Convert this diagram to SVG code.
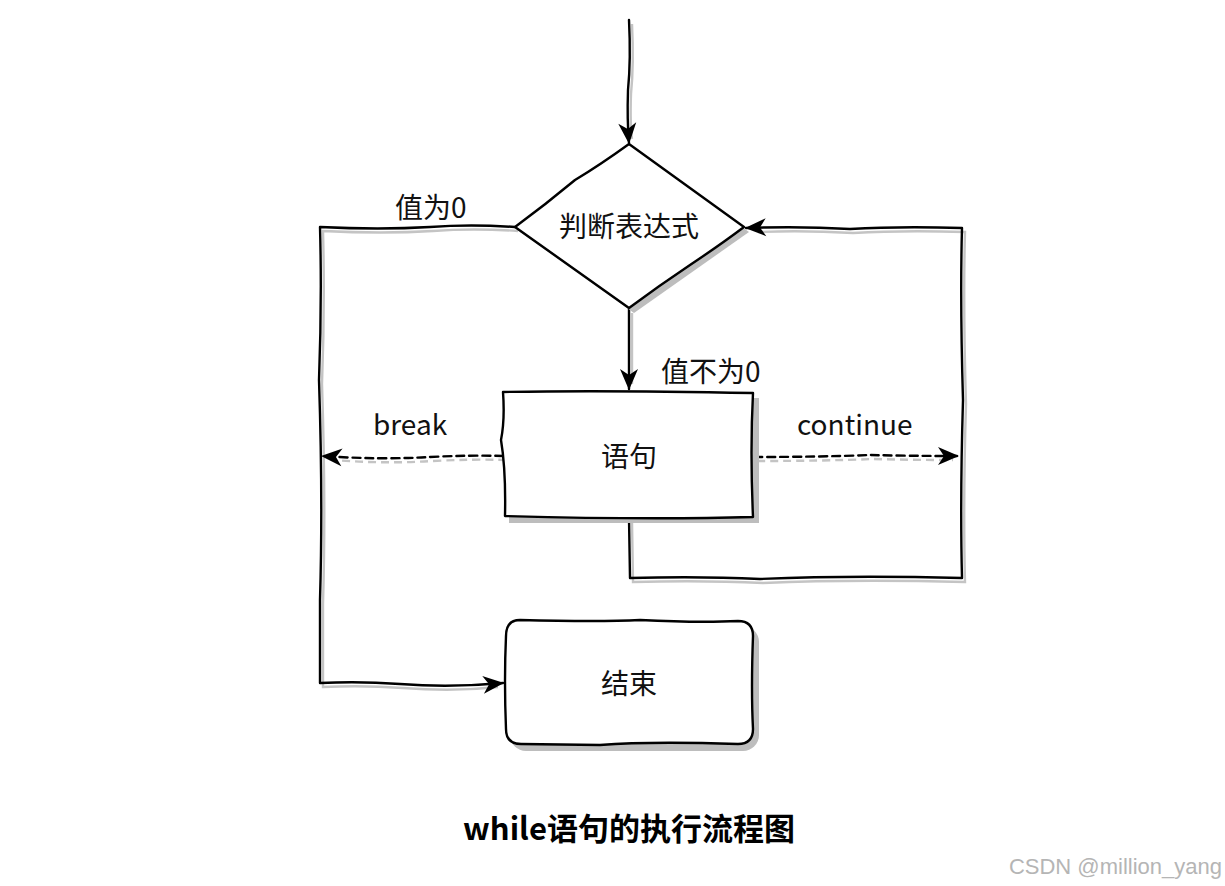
<svg xmlns="http://www.w3.org/2000/svg" width="1225" height="886" viewBox="0 0 1225 886">
<style>
.ln{fill:none;stroke:#000;stroke-width:2.4;stroke-linecap:round;stroke-linejoin:round}
.dash{stroke-dasharray:8 5}
.sh{fill:none;stroke:#c4c4c4;stroke-width:2.4}
.shape{fill:#fff;stroke:#000;stroke-width:2.4;stroke-linejoin:round}
.shf{fill:#bdbdbd;stroke:none}
.t{font-family:"Noto Sans CJK SC","Noto Sans",sans-serif;font-size:28px;fill:#111;text-anchor:middle}
.lab{font-family:"Noto Sans CJK SC","Noto Sans",sans-serif;font-size:28px;fill:#111}
</style>
<defs>
<marker id="ah" markerWidth="24" markerHeight="20" refX="21" refY="10" orient="auto" markerUnits="userSpaceOnUse" viewBox="0 0 24 20">
<path d="M1,1 L22,10 L1,19 L7,10 Z" fill="#000"/>
</marker>
</defs>

<g id="connectors">
<g transform="translate(3,4)">
<path class="sh" d="M629,20 Q631,60 628,90 Q627,120 629,135"/>
<path class="sh" d="M629,309 L629,380"/>
<path class="sh" d="M515,227 Q470,224 430,227 Q380,230 320,227 Q322,300 319,380 Q323,500 320,600 L320,683 Q360,681 400,684 Q450,688 495,683"/>
<path class="sh" d="M629,518 L630,578 Q700,576 760,579 Q850,575 962,578 Q960,500 963,400 Q960,300 962,228 Q900,226 850,229 Q800,226 755,228"/>
<path class="sh dash" d="M503,456 Q470,455 430,457 Q380,460 330,456"/>
<path class="sh dash" d="M754,457 Q820,457 870,455 Q910,456 950,456"/>
</g>
<path class="ln" marker-end="url(#ah)" d="M629,20 Q631,60 628,90 Q627,120 629,143"/>
<path class="ln" marker-end="url(#ah)" d="M629,309 L629,389"/>
<path class="ln" marker-end="url(#ah)" d="M515,227 Q470,224 430,227 Q380,230 320,227 Q322,300 319,380 Q323,500 320,600 L320,683 Q360,681 400,684 Q450,688 503,683"/>
<path class="ln" marker-end="url(#ah)" d="M629,518 L630,578 Q700,576 760,579 Q850,575 962,578 Q960,500 963,400 Q960,300 962,228 Q900,226 850,229 Q800,226 746,228"/>
<path class="ln dash" marker-end="url(#ah)" d="M503,456 Q470,455 430,457 Q380,460 322,456"/>
<path class="ln dash" marker-end="url(#ah)" d="M754,457 Q820,457 870,455 Q910,456 958,456"/>
<text class="lab" x="395" y="218">值为0</text>
<text class="lab" x="661" y="382">值不为0</text>
<text class="lab" x="373" y="435">break</text>
<text class="lab" x="797" y="435">continue</text>
</g>

<g id="decision">
<path class="shf" d="M634,150 L749,232 L634,313 L520,232 Z"/>
<path class="shape" d="M629,144 Q600,165 575,180 Q545,205 515,227 L629,308 Q660,285 690,265 Q720,245 744,227 Z"/>
<text class="t" x="629" y="237">判断表达式</text>
</g>

<g id="statement">
<path class="shf" d="M509,398 L759,398 L759,523 L509,523 Z"/>
<path class="shape" d="M503,392 Q600,390 753,393 Q750,450 753,517 Q650,520 505,516 Q506,470 501,440 Q505,420 503,392 Z"/>
<text class="t" x="629" y="467">语句</text>
</g>

<g id="end">
<rect class="shf" x="510" y="626" width="249" height="125" rx="16"/>
<path class="shape" d="M520,620 Q600,622 640,620 Q700,623 738,621 Q753,621 753,636 Q751,690 753,729 Q753,744 738,744 Q650,741 600,745 L521,744 Q506,744 506,729 Q504,680 506,636 Q506,620 520,620 Z"/>
<text class="t" x="629" y="694">结束</text>
</g>

<text x="629" y="840" style="font-family:'Noto Sans CJK SC','Noto Sans',sans-serif;font-size:31px;font-weight:bold;fill:#000;text-anchor:middle">while语句的执行流程图</text>
<text x="1222" y="874" style="font-family:'Liberation Sans',Arial,sans-serif;font-size:22px;fill:#b5b5b5;text-anchor:end">CSDN @million_yang</text>
</svg>
